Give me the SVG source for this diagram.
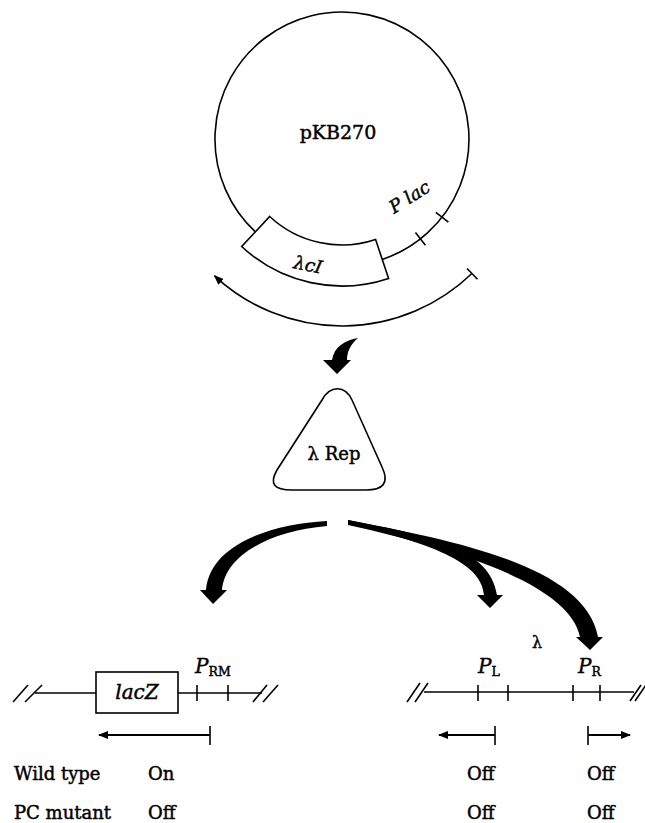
<svg xmlns="http://www.w3.org/2000/svg" width="645" height="823" viewBox="0 0 645 823">
<style>
.ln{fill:none;stroke:#000;stroke-width:1.6}
.th{fill:none;stroke:#000;stroke-width:2.2}
.tx{font-family:"DejaVu Serif","Liberation Serif",serif;fill:#000;stroke:#000;stroke-width:0.45}
.it{font-style:italic}
.big{fill:#000;stroke:none}
</style>
<defs>
<marker id="ah" viewBox="0 0 10 8" refX="9" refY="4" markerWidth="10" markerHeight="8" markerUnits="userSpaceOnUse" orient="auto">
<path d="M0,0 L10,4 L0,8 Z" fill="#000"/>
</marker>
</defs>
<rect width="645" height="823" fill="#fff"/>

<g id="plasmid">
<path class="ln" d="M255.4,231.9 A127,127 0 1 1 382.3,259.4"/>
<text class="tx" x="338" y="139" font-size="19" text-anchor="middle">pKB270</text>
</g>
<g id="lacI-gene">
<path class="ln" d="M375.6,239.5 A106,106 0 0 1 269.7,216.5 L241.7,246.5 A147,147 0 0 0 388.6,278.4 Z" fill="#fff"/>
<text class="tx it" x="308" y="271" font-size="18" text-anchor="middle" transform="rotate(12 308 265)">λcI</text>
</g>
<g id="plac">
<line class="ln" x1="415.5" y1="232.6" x2="425.4" y2="245.2"/>
<line class="ln" x1="435.8" y1="212.3" x2="448.4" y2="222.1"/>
<text class="tx it" x="394" y="214" font-size="18" transform="rotate(-32 394 214)">P lac</text>
</g>
<g id="connectors">
<path class="ln" d="M471.9,273.5 A187,187 0 0 1 214.5,275.8" marker-end="url(#ah)"/>
<line class="ln" x1="467" y1="268.5" x2="477.5" y2="279.3"/>
<path class="big" d="M358,338 C345,340 334,347 332,360 L323,360 L337,374 L351,360 L347,360 C347,351 351,344 358,338 Z"/>
<path class="big" d="M327,521 C270,524 210,545 206,590 L200,590 L213,604 L227,590 L222,590 C225,555 270,531 327,526 Z"/>
<path class="big" d="M348,520 C430,536 490,548 497,595 L503,595 L490,608 L477,595 L484,595 C482,565 440,545 348,524 Z"/>
<path class="big" d="M348,520 C450,540 585,565 598,637 L603,637 L590,650 L576,637 L580,637 C570,585 460,550 348,525 Z"/>
</g>
<g id="rep">
<path class="ln" d="M322,400 C330,385 345,385 352,400 L382,467 C390,484 382,490 366,490 L292,490 C274,490 269,484 277,470 Z"/>
<text class="tx" x="334" y="460" font-size="18" text-anchor="middle">λ Rep</text>
</g>
<g id="lacZ-locus">
<line class="ln" x1="13" y1="702" x2="28" y2="685"/>
<line class="ln" x1="25" y1="702" x2="42" y2="685"/>
<line class="ln" x1="35" y1="693" x2="96" y2="693"/>
<rect class="ln" x="96" y="672" width="82" height="41"/>
<text class="tx it" x="137" y="699" font-size="20" text-anchor="middle">lacZ</text>
<line class="ln" x1="178" y1="693" x2="262" y2="693"/>
<line class="ln" x1="253" y1="702" x2="267" y2="685"/>
<line class="ln" x1="263" y1="702" x2="278" y2="685"/>
<line class="ln" x1="197" y1="685" x2="197" y2="701"/>
<line class="ln" x1="228" y1="685" x2="228" y2="701"/>
<text class="tx" x="195" y="673" font-size="20"><tspan class="it">P</tspan><tspan font-size="12.5" dy="3">RM</tspan></text>
<line class="th" x1="210" y1="735" x2="99" y2="735" marker-end="url(#ah)"/>
<line class="ln" x1="210" y1="726" x2="210" y2="745"/>
</g>
<g id="lambda-locus">
<text class="tx" x="537" y="648" font-size="16" text-anchor="middle">λ</text>
<line class="ln" x1="407" y1="702" x2="420" y2="683"/>
<line class="ln" x1="415" y1="702" x2="428" y2="683"/>
<line class="ln" x1="424" y1="692" x2="634" y2="692"/>
<line class="ln" x1="630" y1="701" x2="641" y2="685"/>
<line class="ln" x1="635" y1="701" x2="646" y2="685"/>
<line class="ln" x1="478" y1="685" x2="478" y2="701"/>
<line class="ln" x1="508" y1="685" x2="508" y2="701"/>
<line class="ln" x1="573" y1="685" x2="573" y2="701"/>
<line class="ln" x1="600" y1="685" x2="600" y2="701"/>
<text class="tx" x="478" y="673" font-size="20"><tspan class="it">P</tspan><tspan font-size="12.5" dy="3">L</tspan></text>
<text class="tx" x="578" y="673" font-size="20"><tspan class="it">P</tspan><tspan font-size="12.5" dy="3">R</tspan></text>
<line class="th" x1="495" y1="735" x2="439" y2="735" marker-end="url(#ah)"/>
<line class="ln" x1="495" y1="726" x2="495" y2="745"/>
<line class="th" x1="588" y1="735" x2="630" y2="735" marker-end="url(#ah)"/>
<line class="ln" x1="588" y1="726" x2="588" y2="745"/>
</g>
<g id="table">
<text class="tx" x="14" y="780" font-size="18">Wild type</text>
<text class="tx" x="148" y="780" font-size="18">On</text>
<text class="tx" x="467" y="780" font-size="18">Off</text>
<text class="tx" x="587" y="780" font-size="18">Off</text>
<text class="tx" x="14" y="819" font-size="18">PC mutant</text>
<text class="tx" x="148" y="819" font-size="18">Off</text>
<text class="tx" x="467" y="819" font-size="18">Off</text>
<text class="tx" x="587" y="819" font-size="18">Off</text>
</g>
</svg>
